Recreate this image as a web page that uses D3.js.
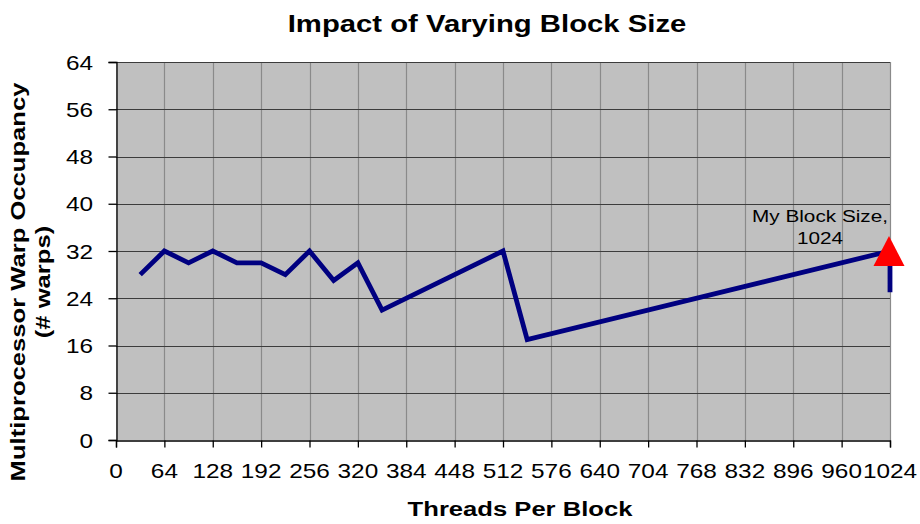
<!DOCTYPE html>
<html>
<head>
<meta charset="utf-8">
<script src="https://cdnjs.cloudflare.com/ajax/libs/d3/7.8.5/d3.min.js"></script>
<style>
  body { margin: 0; background: #fff; }
  svg text { font-family: "Liberation Sans", Arial, sans-serif; fill: #000; }
</style>
</head>
<body>
<svg id="chart"></svg>
<script>
// threads per block vs. warp occupancy
const threads = [32, 64, 96, 128, 160, 192, 224, 256, 288, 320, 352, 512, 544, 1024, 1024]
const warps   = [28, 32, 30, 32, 30, 30, 28, 32, 27, 30, 22, 32, 17, 32, 25]

const xTicks = [0, 64, 128, 192, 256, 320, 384, 448, 512, 576, 640, 704, 768, 832, 896, 960, 1024]
const yTicks = [0, 8, 16, 24, 32, 40, 48, 56, 64]

const myBlock = [1024]
const myWarps = [32]
const myLabel = ["My Block Size,", "1024"]

const titleText = "Impact of Varying Block Size"
const xTitle = "Threads Per Block"
const yTitle = ["Multiprocessor Warp Occupancy", "(# warps)"]

// svg size
const width = 920
const height = 524

const pad_left = 116
const pad_right = 30
const pad_top = 62
const pad_bottom = 84

// text in the original is drawn a bit wide
const stretch = 1.22

let svg = d3.select('#chart')
    .attr('width', width)
    .attr('height', height)

let xScale = d3.scaleLinear().domain([0, 1024]).range([pad_left, width - pad_right])
let yScale = d3.scaleLinear().domain([0, 64]).range([height - pad_bottom, pad_top])

// stretched text helper
function addText(g, x, y, txt, size, weight, anchor, rotate, sx) {
    let rot = rotate ? ` rotate(${rotate})` : ''
    return g.append('text')
        .attr('transform', `translate(${x},${y})${rot} scale(${sx || stretch},1)`)
        .attr('font-size', size)
        .attr('font-weight', weight)
        .attr('text-anchor', anchor)
        .text(txt)
}

// plot area
svg.append('rect')
    .attr('x', xScale(0))
    .attr('y', yScale(64))
    .attr('width', xScale(1024) - xScale(0))
    .attr('height', yScale(0) - yScale(64))
    .attr('fill', '#c0c0c0')

// gridlines
svg.append('g')
    .selectAll('line')
    .data(xTicks.slice(1))
    .join('line')
    .attr('x1', d => Math.round(xScale(d)) + 0.5)
    .attr('x2', d => Math.round(xScale(d)) + 0.5)
    .attr('y1', yScale(64))
    .attr('y2', yScale(0))
    .attr('stroke', '#8a8a8a')
    .attr('stroke-width', 1.2)

svg.append('g')
    .selectAll('line')
    .data(yTicks.slice(1))
    .join('line')
    .attr('x1', xScale(0))
    .attr('x2', xScale(1024))
    .attr('y1', d => Math.round(yScale(d)) + 0.5)
    .attr('y2', d => Math.round(yScale(d)) + 0.5)
    .attr('stroke', '#3c3c3c')
    .attr('stroke-width', 1.2)

// axes
let xAxis = d3.axisBottom(xScale).tickValues(xTicks).tickSize(7).tickFormat('')
svg.append('g')
    .attr('transform', `translate(0,${yScale(0) + 0.5})`)
    .call(xAxis)
    .call(g => g.select('.domain').attr('stroke', '#000').attr('stroke-width', 1.3))
    .call(g => g.selectAll('.tick line').attr('stroke', '#000').attr('stroke-width', 1.3))

let yAxis = d3.axisLeft(yScale).tickValues(yTicks).tickSize(8).tickFormat('')
svg.append('g')
    .attr('transform', `translate(${xScale(0) + 0.5},0)`)
    .call(yAxis)
    .call(g => g.select('.domain').attr('stroke', '#000').attr('stroke-width', 1.3))
    .call(g => g.selectAll('.tick line').attr('stroke', '#000').attr('stroke-width', 1.3))

// tick labels
let labels = svg.append('g')
xTicks.forEach(t => addText(labels, xScale(t), yScale(0) + 38, t, 21, 'normal', 'middle', 0, 1.16))
yTicks.forEach(t => addText(labels, xScale(0) - 23, yScale(t) + 7.5, t, 21, 'normal', 'end', 0, 1.16))

// line
let pts = threads.map((t, i) => [t, warps[i]])
svg.append('path')
    .datum(pts)
    .attr('fill', 'none')
    .attr('stroke', '#000080')
    .attr('stroke-width', 4.8)
    .attr('stroke-linejoin', 'miter')
    .attr('d', d3.line().x(d => xScale(d[0])).y(d => yScale(d[1])))

// my block size marker
let mx = xScale(myBlock[0])
let my = yScale(myWarps[0])
svg.append('path')
    .attr('d', `M${mx - 1},${my - 15} L${mx + 14.5},${my + 15} L${mx - 16.5},${my + 15} Z`)
    .attr('fill', '#ff0000')

let ann = svg.append('g')
addText(ann, mx - 70, my - 29, myLabel[0], 17, 'normal', 'middle')
addText(ann, mx - 70, my - 7, myLabel[1], 17, 'normal', 'middle')

// titles
addText(svg, 487, 32, titleText, 24, 'bold', 'middle')
addText(svg, 520, 516, xTitle, 21, 'bold', 'middle')
addText(svg, 25, 282, yTitle[0], 21, 'bold', 'middle', -90)
addText(svg, 50, 282, yTitle[1], 21, 'bold', 'middle', -90)
</script>
</body>
</html>
